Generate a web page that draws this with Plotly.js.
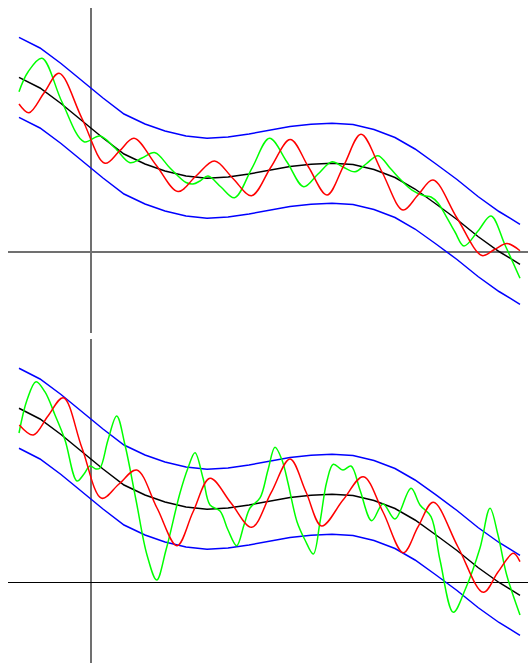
<!DOCTYPE html>
<html>
<head>
<meta charset="utf-8">
<script src="https://cdn.plot.ly/plotly-3.0.1.min.js"></script>
<style>html,body{margin:0;padding:0;background:#fff;}#chart{width:530px;height:663px;}</style>
</head>
<body>
<div id="chart"></div>
<script>
// Smooth trend (black) and its band (blue), same in both panels
const xTrend = [-7.2,-5.1,-3.0,-0.9,1.2,3.3,5.4,7.4,9.5,11.6,13.7,15.8,17.9,19.9,22.0,24.1,26.2,28.3,30.4,32.4,34.5,36.6,38.7,40.8,42.9];
const trend  = [17.47,16.4,14.85,13.1,11.4,9.8,8.8,8.1,7.6,7.37,7.5,7.8,8.2,8.55,8.77,8.87,8.75,8.25,7.45,6.3,4.8,3.25,1.55,0.05,-1.23];
const bandUpper = [21.47,20.4,18.85,17.1,15.4,13.8,12.8,12.1,11.6,11.37,11.5,11.8,12.2,12.55,12.77,12.87,12.75,12.25,11.45,10.3,8.8,7.25,5.55,4.05,2.77];
const bandLower = [13.47,12.4,10.85,9.1,7.4,5.8,4.8,4.1,3.6,3.37,3.5,3.8,4.2,4.55,4.77,4.87,4.75,4.25,3.45,2.3,0.8,-0.75,-2.45,-3.95,-5.23];

// Panel 1
const xRed1 = [-7.2,-6.2,-4.7,-3.2,-0.9,1.4,2.85,4.3,6.5,8.7,10.5,12.35,14.2,16.05,18.0,19.93,21.75,23.6,25.3,27.0,29.1,31.2,32.7,34.2,36.6,39.1,40.35,41.6,42.9];
const red1  = [14.8,13.93,15.9,17.87,13.35,8.87,10.1,11.37,8.7,6.05,7.6,9.1,7.35,5.63,8.5,11.25,8.5,5.7,8.7,11.77,8.0,4.2,5.7,7.2,3.4,-0.35,0.25,0.85,0.13];
const xGreen1 = [-7.2,-6.3,-4.9,-2.9,-0.7,0.9,2.4,3.9,5.1,6.4,7.9,9.5,10.2,10.9,11.7,13.0,14.35,16.1,17.85,19.6,21.27,22.7,24.1,25.2,26.4,27.5,28.7,29.9,31.0,32.1,33.3,34.0,34.7,35.5,36.4,37.3,38.7,40.0,41.4,42.9];
const green1  = [16.03,18.0,19.37,15.0,11.03,11.6,10.4,8.93,9.4,9.93,8.4,6.95,6.8,7.1,7.6,6.5,5.43,8.4,11.37,9.0,6.53,7.8,9.03,8.5,8.02,8.8,9.63,8.4,7.2,6.2,5.63,5.5,4.9,3.6,2.0,0.6,2.1,3.6,0.7,-2.63];

// Panel 2
const xRed2 = [-7.17,-5.77,-4.3,-2.77,-0.9,1.07,2.8,4.57,6.6,8.6,10.2,11.9,14.0,16.07,18.0,19.9,21.5,23.07,25.2,27.23,29.2,31.23,32.7,34.23,36.7,39.23,40.7,42.23,42.9];
const red2  = [15.8,14.8,16.7,18.53,13.5,8.47,9.9,11.3,7.5,3.73,7.1,10.47,8.0,5.57,9.0,12.4,9.1,5.7,8.3,10.63,7.1,3.03,5.6,8.07,3.6,-0.93,1.1,2.97,2.13];
const xGreen2 = [-7.2,-6.4,-5.5,-4.6,-3.6,-2.6,-1.4,-0.7,-0.1,0.5,0.9,1.7,2.57,3.4,4.5,5.6,6.57,7.5,8.9,9.7,10.4,11.2,11.9,12.9,13.7,14.57,15.3,15.9,16.9,17.7,18.4,19.1,19.7,20.6,21.4,22.23,22.9,23.57,24.23,25.2,26.0,26.9,28.07,29.2,30.4,32.0,32.9,34.0,34.9,36.23,37.4,38.9,39.9,40.7,41.57,42.9];
const green2  = [15.0,18.3,20.13,19.1,16.8,14.3,10.2,10.9,11.7,11.4,11.5,14.3,16.7,13.8,8.3,2.8,0.3,3.3,9.0,11.5,13.03,10.5,7.8,7.2,5.3,3.73,5.8,7.5,8.5,11.3,13.57,12.3,10.0,6.13,4.3,2.9,6.1,10.1,11.87,11.3,11.7,9.3,6.23,7.9,6.4,9.47,7.8,6.63,2.3,-2.93,-0.7,3.5,7.47,4.8,0.8,-3.2];

function panel(xa, ya, xr, r, xg, g) {
  const w = 1.5;
  return [
    {x: xTrend, y: bandUpper, xaxis: xa, yaxis: ya, mode: 'lines', line: {color: '#0000ff', width: w}},
    {x: xTrend, y: bandLower, xaxis: xa, yaxis: ya, mode: 'lines', line: {color: '#0000ff', width: w}},
    {x: xTrend, y: trend, xaxis: xa, yaxis: ya, mode: 'lines', line: {color: '#000000', width: w}},
    {x: xg, y: g, xaxis: xa, yaxis: ya, mode: 'lines', line: {color: '#00ff00', width: w, shape: 'spline', smoothing: 1}},
    {x: xr, y: r, xaxis: xa, yaxis: ya, mode: 'lines', line: {color: '#ff0000', width: w, shape: 'spline', smoothing: 1}}
  ];
}

const data = panel('x', 'y', xRed1, red1, xGreen1, green1)
  .concat(panel('x2', 'y2', xRed2, red2, xGreen2, green2));

const axBase = {showgrid: false, showticklabels: false, ticks: '', showline: false, zeroline: true};
const layout = {
  width: 530, height: 663,
  margin: {l: 8, r: 2, t: 8, b: 0},
  showlegend: false,
  paper_bgcolor: '#fff', plot_bgcolor: '#fff',
  xaxis:  Object.assign({}, axBase, {range: [-8.3, 43.7], anchor: 'y', zerolinecolor: '#707070', zerolinewidth: 1.6}),
  yaxis:  Object.assign({}, axBase, {range: [-8.1, 24.4], domain: [0.5038, 1], anchor: 'x', zerolinecolor: '#707070', zerolinewidth: 1.6}),
  xaxis2: Object.assign({}, axBase, {range: [-8.3, 43.7], anchor: 'y2', zerolinecolor: '#707070', zerolinewidth: 1.6}),
  yaxis2: Object.assign({}, axBase, {range: [-8.0, 24.4], domain: [0, 0.4947], anchor: 'x2', zerolinecolor: '#000000', zerolinewidth: 1})
};

Plotly.newPlot('chart', data, layout, {staticPlot: true, displayModeBar: false});
</script>
</body>
</html>
